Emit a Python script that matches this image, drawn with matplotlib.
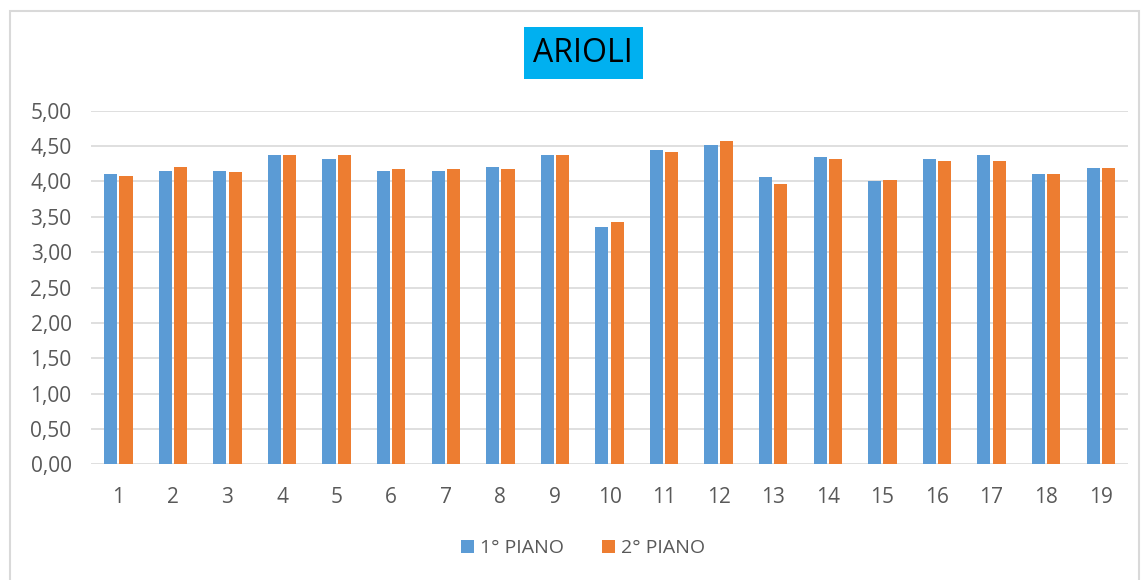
import matplotlib.pyplot as plt
import numpy as np
from matplotlib.patches import Rectangle

plt.rcParams['font.family'] = ['Open Sans', 'DejaVu Sans']

# data
rooms = [str(i) for i in range(1, 20)]
piano_1 = [4.11, 4.15, 4.15, 4.37, 4.32, 4.15, 4.15, 4.20, 4.37, 3.36,
           4.44, 4.52, 4.06, 4.35, 4.00, 4.32, 4.37, 4.11, 4.19]
piano_2 = [4.08, 4.20, 4.13, 4.37, 4.37, 4.17, 4.17, 4.17, 4.37, 3.43,
           4.42, 4.57, 3.97, 4.32, 4.02, 4.29, 4.29, 4.11, 4.19]
yticks = np.arange(0, 5.01, 0.5)

fig = plt.figure(figsize=(11.41, 5.80), dpi=100)
ax = fig.add_axes([0.0798, 0.1995, 0.9088, 0.6095])

x = np.arange(len(rooms))
w = 0.24
ax.bar(x - 0.14, piano_1, w, color='#5B9BD5', label='1° PIANO', zorder=3)
ax.bar(x + 0.14, piano_2, w, color='#ED7D31', label='2° PIANO', zorder=3)

ax.set_xlim(-0.5, len(rooms) - 0.5)
ax.set_ylim(0, 5)
ax.set_yticks(yticks)
ax.set_yticklabels([f'{v:.2f}'.replace('.', ',') for v in yticks])
ax.set_xticks(x)
ax.set_xticklabels(rooms)
ax.tick_params(length=0, labelsize=15, colors='#595959')
ax.tick_params(axis='x', pad=16)
ax.tick_params(axis='y', pad=14)
ax.grid(axis='y', color='#D9D9D9', lw=1.2, zorder=0)
for s in ax.spines.values():
    s.set_visible(False)

fig.text(0.511, 0.908, 'ARIOLI', ha='center', va='center', fontsize=23,
         color='black',
         bbox=dict(boxstyle='square,pad=0.3', fc='#00B0F0', ec='none'))

fig.legend(loc='center', bbox_to_anchor=(0.511, 0.055), ncol=2, frameon=False,
           fontsize=14, handlelength=0.65, handleheight=0.65, columnspacing=2.0,
           handletextpad=0.3, labelcolor='#595959')

fig.patches.append(Rectangle((10 / 1141, -0.01), 1129 / 1141, 1 - 11 / 580 + 0.01,
                             transform=fig.transFigure, fill=False,
                             ec='#D9D9D9', lw=1.5))

fig.savefig('out.png', dpi=100)
